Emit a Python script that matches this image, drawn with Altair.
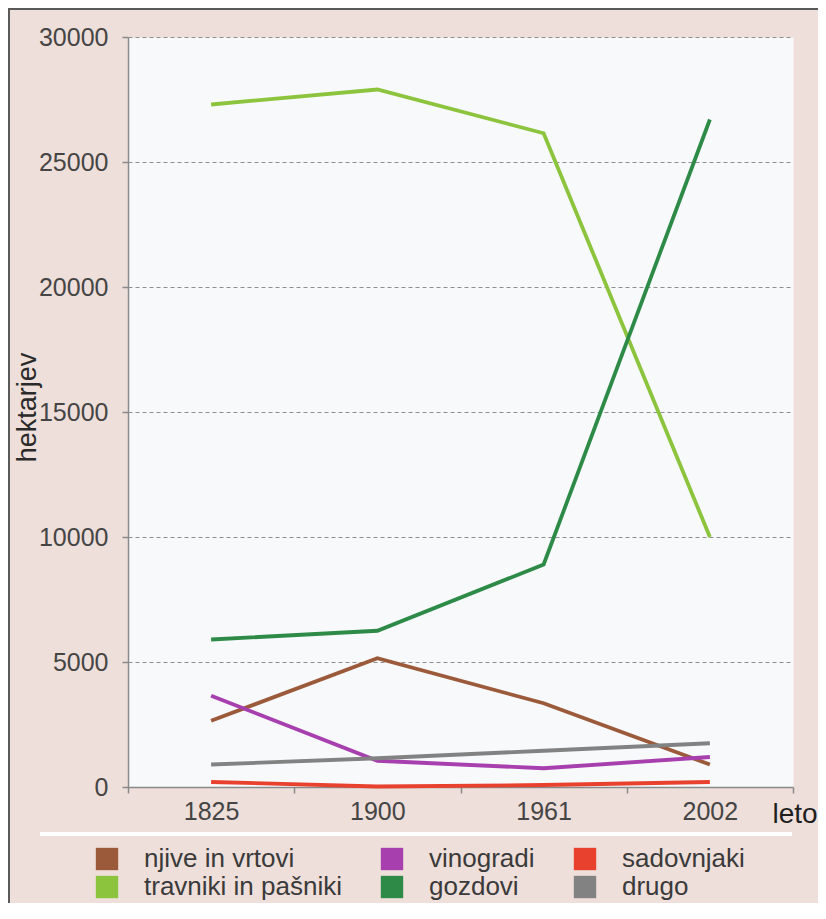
import altair as alt
import pandas as pd

years = ["1825", "1900", "1961", "2002"]
series_names = ["njive in vrtovi", "vinogradi", "sadovnjaki",
                "travniki in pašniki", "gozdovi", "drugo"]
njive = [2650, 5150, 3350, 900]
vinogradi = [3650, 1050, 750, 1200]
sadovnjaki = [200, 20, 80, 200]
travniki = [27300, 27900, 26150, 10000]
gozdovi = [5900, 6250, 8900, 26700]
drugo = [900, 1150, 1450, 1750]
series_colors = ["#9B5A3A", "#A83FAE", "#E8412E", "#8DC43E", "#2E8B47", "#828282"]
y_ticks = [0, 5000, 10000, 15000, 20000, 25000, 30000]

rows = []
for name, vals in zip(series_names, [njive, vinogradi, sadovnjaki, travniki, gozdovi, drugo]):
    for yr, v in zip(years, vals):
        rows.append({"leto": yr, "vrsta": name, "ha": v})
df = pd.DataFrame(rows)

FONT = "Liberation Sans"
AX = "#8a8a8a"

x_enc = alt.X(
    "leto:O",
    sort=years,
    scale=alt.Scale(type="band", paddingInner=0, paddingOuter=0),
    axis=alt.Axis(
        title="leto", labelAngle=0, tickBand="extent", grid=False,
        domainColor=AX, domainWidth=1.5, tickColor=AX, tickWidth=1.5, tickSize=6,
        labelFont=FONT, labelFontSize=25, labelColor="#454545", labelPadding=6,
        titleFont=FONT, titleFontSize=28, titleFontWeight="normal", titleColor="#1e1e1e",
        titleX=644, titleY=35, titleAlign="left", titleBaseline="alphabetic",
    ),
)
y_enc = alt.Y(
    "ha:Q",
    scale=alt.Scale(domain=[0, 30000], nice=False),
    axis=alt.Axis(
        values=y_ticks, format="d", title="hektarjev", grid=True, gridColor="#8f8f8f",
        gridDash=[4, 3], gridWidth=1,
        domainColor=AX, domainWidth=1.5, tickColor=AX, tickWidth=1.5, tickSize=6,
        labelFont=FONT, labelFontSize=25, labelColor="#454545", labelPadding=14,
        titleFont=FONT, titleFontSize=27, titleFontWeight="normal", titleColor="#2a2a2a",
        titleX=-93, titleY=370, titleAlign="center", titleBaseline="alphabetic",
    ),
)

lines = alt.Chart(df).mark_line(strokeWidth=3.8).encode(
    x=x_enc,
    y=y_enc,
    color=alt.Color("vrsta:N", scale=alt.Scale(domain=series_names, range=series_colors),
                    legend=None),
)

legend_layer = alt.Chart(df).transform_filter("false").mark_square(opacity=1, filled=True).encode(
    x=alt.X("leto:O", sort=years),
    y=alt.Y("ha:Q"),
    fill=alt.Fill(
        "vrsta:N",
        scale=alt.Scale(domain=series_names, range=series_colors),
        legend=alt.Legend(
            title=None, orient="none", legendX=-34, legendY=809,
            direction="horizontal", columns=3, symbolType="square", symbolSize=500,
            symbolStrokeWidth=0, labelFont=FONT, labelFontSize=26, labelColor="#3a3a3a",
            labelOffset=24, columnPadding=37, rowPadding=2, padding=0, labelLimit=400,
        ),
    ),
)

one = alt.Data(values=[{"k": 1}])
separator = alt.Chart(one).mark_rule(color="white", strokeWidth=4).encode(
    x=alt.value(-88), x2=alt.value(664), y=alt.value(797)
)
border_left = alt.Chart(one).mark_rule(color="#5a5a5a", strokeWidth=2).encode(
    x=alt.value(-119), y=alt.value(-29), y2=alt.value(890)
)
border_top = alt.Chart(one).mark_rule(color="#5a5a5a", strokeWidth=2).encode(
    y=alt.value(-28), x=alt.value(-120), x2=alt.value(700)
)

chart = alt.layer(lines, legend_layer, separator, border_left, border_top).resolve_scale(
    color="independent", fill="independent"
).properties(
    width=665,
    height=750,
    background="#EEDFDA",
    padding={"left": 120, "top": 29, "right": 25, "bottom": 116},
    autosize=alt.AutoSizeParams(type="none"),
).configure_view(fill="#F7F9FB", stroke="transparent")

chart.save("out.html", embed_options={"renderer": "svg", "actions": False})
